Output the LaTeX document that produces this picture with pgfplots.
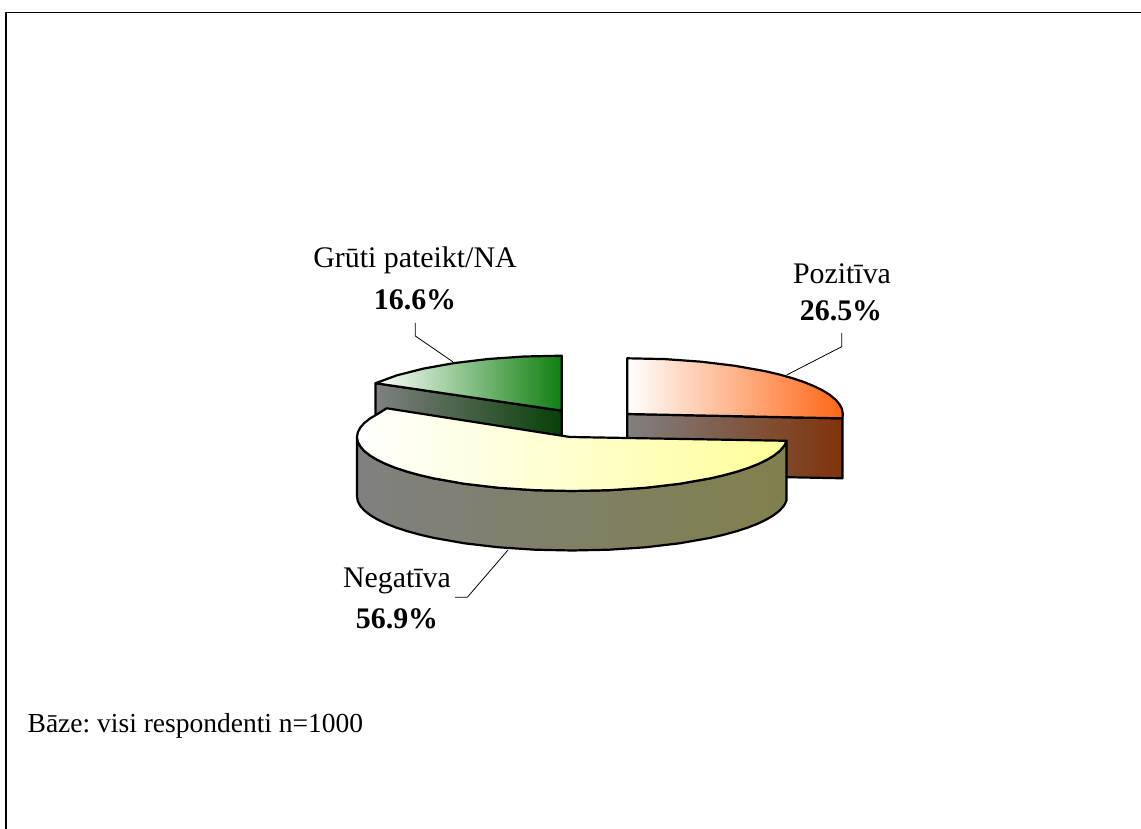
\documentclass[border=0pt]{standalone}
\usepackage{pgfplots}
\pgfplotsset{compat=1.18}
\usepackage{fontspec}
\setmainfont{Liberation Serif}
\definecolor{gtop}{RGB}{16,128,16}
\definecolor{gmid}{RGB}{185,208,185}
\definecolor{gside}{RGB}{8,64,8}
\definecolor{otop}{RGB}{255,102,20}
\definecolor{omid}{RGB}{255,215,205}
\definecolor{oside}{RGB}{128,51,10}
\definecolor{ytop}{RGB}{255,255,153}
\definecolor{ymid}{RGB}{255,255,218}
\definecolor{yside}{RGB}{128,128,77}
\definecolor{graywall}{RGB}{128,128,128}
\tikzset{lbl/.style={font=\fontsize{30}{32}\selectfont,align=center,anchor=center,inner sep=0pt},
  lblb/.style={font=\fontsize{27.6}{30}\selectfont,anchor=west,inner sep=0pt}}
\begin{document}
\frenchspacing
\begin{tikzpicture}[x=1bp,y=1bp]
\begin{axis}[at={(0,0)},anchor=south west,width=1141bp,height=829bp,scale only axis,
  xmin=0,xmax=1141,ymin=0,ymax=829,y dir=reverse,hide axis,clip=true,
  every axis plot/.append style={no markers,line join=round}]
% frame
\addplot[black,line width=1.3bp] coordinates {(6,829)(6,12.5)(1141,12.5)};
% leaders
\addplot[black,line width=0.8bp] coordinates {(415.3,323)(415.3,336)(452.7,361.7)};
\addplot[black,line width=0.8bp] coordinates {(841.7,333)(841.7,346.7)(786.7,375)};
\addplot[black,line width=0.8bp] coordinates {(508,550)(467.3,597.3)(455,597.3)};
% green wall and top
\addplot[draw=black,line width=2.2bp,left color=graywall,right color=gside] coordinates {(375.5,383.2)(561.7,410.7)(561.7,469.7)(375.5,442.2)} -- cycle;
\addplot[draw=black,line width=2.2bp,left color=white,middle color=gmid,right color=gtop] coordinates {(561.7,410.7)(375.5,383.2)(397,375.3)(423.5,368.6)(454.2,363.1)(488.2,359)(524.4,356.5)(561.7,355.7)} -- cycle;
% orange wall and top
\addplot[draw=black,line width=2.2bp,left color=graywall,right color=oside] coordinates {(627.3,414)(842.5,418.4)(842.5,478.3)(627.3,474)} -- cycle;
\addplot[draw=black,line width=2.2bp,left color=white,middle color=omid,right color=otop] coordinates {(627.3,414)(627.3,358.3)(664.7,359.1)(701,361.7)(735,365.8)(765.8,371.3)(779.7,374.6)(792.4,378.2)(803.8,382)(813.9,386.1)(822.6,390.4)(829.8,394.9)(835.5,399.6)(839.5,404.3)(842,409)(842.8,414)(842.5,418.4)} -- cycle;
% yellow wall and top
\addplot[draw=black,line width=2.2bp,left color=graywall,right color=yside] coordinates {(357,437)(357.8,441.7)(360.3,446.4)(364.3,451)(370,455.5)(377.2,459.8)(385.8,464)(395.9,468)(407.3,471.7)(420,475.2)(433.8,478.4)(464.5,483.8)(498.5,487.8)(534.7,490.2)(572,491)(609.3,490.2)(645.5,487.8)(679.5,483.8)(710.2,478.4)(724,475.2)(736.7,471.7)(748.1,468)(758.2,464)(766.8,459.8)(774,455.5)(779.7,451)(783.7,446.4)(784.9,444.5)(786.5,440.8)(786.5,500.3)(784.9,504)(783.7,505.9)(779.7,510.5)(774,515)(766.8,519.3)(758.2,523.5)(748.1,527.5)(736.7,531.2)(724,534.7)(710.2,537.9)(679.5,543.3)(645.5,547.3)(609.3,549.7)(572,550.5)(534.7,549.7)(498.5,547.3)(464.5,543.3)(433.8,537.9)(420,534.7)(407.3,531.2)(395.9,527.5)(385.8,523.5)(377.2,519.3)(370,515)(364.3,510.5)(360.3,505.9)(357.8,501.2)(357,496.5)} -- cycle;
\addplot[draw=black,line width=2.2bp,left color=white,middle color=ymid,right color=ytop] coordinates {(570,437)(386.7,408.3)(377.2,414.2)(370,418.5)(364.3,423)(360.3,427.6)(357.8,432.3)(357,437)(357.8,441.7)(360.3,446.4)(364.3,451)(370,455.5)(377.2,459.8)(385.8,464)(395.9,468)(407.3,471.7)(420,475.2)(433.8,478.4)(464.5,483.8)(498.5,487.8)(534.7,490.2)(572,491)(609.3,490.2)(645.5,487.8)(679.5,483.8)(710.2,478.4)(724,475.2)(736.7,471.7)(748.1,468)(758.2,464)(766.8,459.8)(774,455.5)(779.7,451)(783.7,446.4)(784.9,444.5)(786.5,440.8)} -- cycle;
% labels
\node[lbl] at (axis cs:415,260) {Grūti pateikt/NA};
\node[lbl] at (axis cs:415,299.5) {\textbf{16.6\%}};
\node[lbl] at (axis cs:842,273.5) {Pozitīva};
\node[lbl] at (axis cs:841,310.5) {\textbf{26.5\%}};
\node[lbl] at (axis cs:397,580.5) {Negatīva};
\node[lbl] at (axis cs:397,619) {\textbf{56.9\%}};
\node[lblb] at (axis cs:27.5,725.5) {Bāze: visi respondenti n=1000};
\end{axis}
\useasboundingbox (0,0) rectangle (1141,829);
\end{tikzpicture}
\end{document}
